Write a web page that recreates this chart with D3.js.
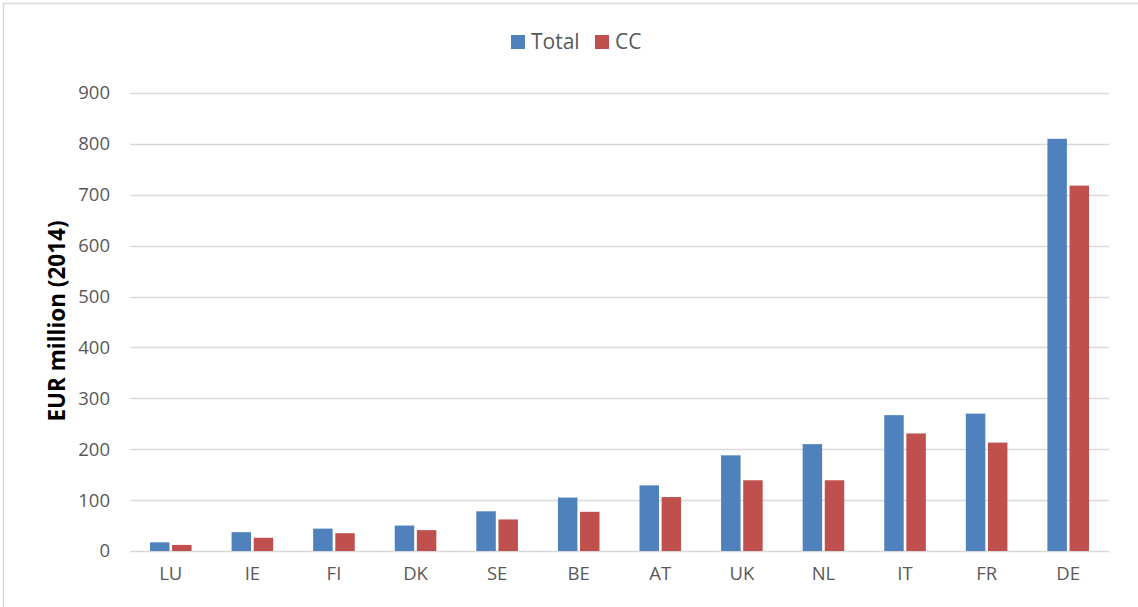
<!DOCTYPE html>
<html>
<head>
<meta charset="utf-8">
<script src="https://cdn.jsdelivr.net/npm/d3@7"></script>
<style>
  body { margin: 0; background: #fff; }
  svg { font-family: "Open Sans", sans-serif; }
</style>
</head>
<body>
<div id="chart"></div>
<script>
// data
var countries = ["LU", "IE", "FI", "DK", "SE", "BE", "AT", "UK", "NL", "IT", "FR", "DE"];
var totalValues = [17, 37, 44, 50, 78, 105, 129, 188, 210, 267, 270, 810];
var ccValues = [12, 26, 35, 41, 62, 77, 106, 139, 139, 231, 213, 718];
var seriesNames = ["Total", "CC"];
var yTicks = [0, 100, 200, 300, 400, 500, 600, 700, 800, 900];

var colors = { Total: "#4F81BD", CC: "#C0504D" };

var W = 1138, H = 607;
var margin = { top: 93, right: 29, bottom: 56, left: 130 },
    width = W - margin.left - margin.right,
    height = H - margin.top - margin.bottom;

var svg = d3.select("#chart").append("svg")
    .attr("width", W)
    .attr("height", H);

// chart border
svg.append("rect")
    .attr("x", 3.5).attr("y", 3.5)
    .attr("width", W - 2).attr("height", H + 10)
    .attr("fill", "none")
    .attr("stroke", "#d9d9d9")
    .attr("stroke-width", 1.5);

var g = svg.append("g")
    .attr("transform", "translate(" + margin.left + "," + margin.top + ")");

var x = d3.scaleBand()
    .domain(countries)
    .range([0, width])
    .paddingInner(0)
    .paddingOuter(0);

var x1 = d3.scaleBand()
    .domain(seriesNames)
    .range([20, x.bandwidth() - 20])
    .paddingInner(0.12);

var y = d3.scaleLinear()
    .domain([0, 900])
    .range([height, 0]);

// gridlines
g.append("g")
    .selectAll("line")
    .data(yTicks)
    .enter().append("line")
    .attr("x1", 0)
    .attr("x2", width)
    .attr("y1", function (d) { return Math.round(y(d)) + 0.5; })
    .attr("y2", function (d) { return Math.round(y(d)) + 0.5; })
    .attr("stroke", "#d9d9d9")
    .attr("stroke-width", 1.5);

// y axis labels
g.append("g")
    .call(d3.axisLeft(y).tickValues(yTicks).tickSize(0).tickPadding(20))
    .call(function (a) { a.select(".domain").remove(); })
    .selectAll("text")
    .attr("font-family", "Open Sans, sans-serif")
    .attr("font-size", 18.5)
    .attr("fill", "#595959");

// x axis labels
g.append("g")
    .attr("transform", "translate(0," + height + ")")
    .call(d3.axisBottom(x).tickSize(0).tickPadding(16))
    .call(function (a) { a.select(".domain").remove(); })
    .selectAll("text")
    .attr("font-family", "Open Sans, sans-serif")
    .attr("font-size", 18.5)
    .attr("fill", "#595959");

// bars
var rows = countries.map(function (c, i) {
    return { country: c, Total: totalValues[i], CC: ccValues[i] };
});

var groups = g.selectAll(".grp")
    .data(rows)
    .enter().append("g")
    .attr("class", "grp")
    .attr("transform", function (d) { return "translate(" + x(d.country) + ",0)"; });

groups.selectAll("rect")
    .data(function (d) { return seriesNames.map(function (s) { return { key: s, value: d[s] }; }); })
    .enter().append("rect")
    .attr("x", function (d) { return x1(d.key); })
    .attr("width", x1.bandwidth())
    .attr("y", function (d) { return y(d.value); })
    .attr("height", function (d) { return height - y(d.value); })
    .attr("fill", function (d) { return colors[d.key]; });

// y axis title
svg.append("text")
    .attr("transform", "translate(65," + (margin.top + height / 2 - 1) + ") rotate(-90)")
    .attr("text-anchor", "middle")
    .attr("font-size", 22.5)
    .attr("font-weight", "bold")
    .attr("fill", "#000")
    .text("EUR million (2014)");

// legend
var legend = svg.append("g").attr("transform", "translate(511,35)");
var lx = [0, 84];
seriesNames.forEach(function (s, i) {
    legend.append("rect")
        .attr("x", lx[i]).attr("y", 0)
        .attr("width", 14).attr("height", 14)
        .attr("fill", colors[s]);
    legend.append("text")
        .attr("x", lx[i] + 20).attr("y", 14)
        .attr("font-size", 21)
        .attr("fill", "#595959")
        .text(s);
});
</script>
</body>
</html>
